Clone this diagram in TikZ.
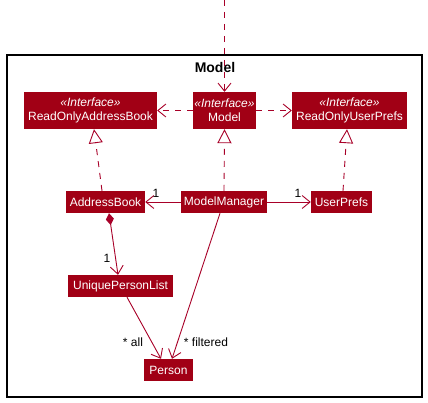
\documentclass[tikz,border=0pt]{standalone}
\usepackage{fontspec}
\setmainfont{Liberation Sans}
\usetikzlibrary{arrows.meta}
\definecolor{boxfill}{RGB}{161,0,21}
\definecolor{linecol}{RGB}{168,0,40}
\begin{document}
\begin{tikzpicture}[x=1pt,y=-1pt,
  cls/.style={fill=boxfill,draw=none,text=white,inner sep=0pt,align=center,font=\fontsize{12}{14}\selectfont},
  conn/.style={draw=linecol,line width=0.9pt},
  dep/.style={conn,dash pattern=on 6pt off 6pt,-{Straight Barb[length=8pt,width=13pt]}},
  assoc/.style={conn,-{Straight Barb[length=8pt,width=13pt]}},
  real/.style={conn,dash pattern=on 6pt off 6pt,-{Triangle[open,length=14pt,width=14pt,fill=white]}},
  comp/.style={conn,{Diamond[length=12pt,width=8pt]}-{Straight Barb[length=8pt,width=13pt]}},
  lbl/.style={font=\fontsize{12}{14}\selectfont,text=black,inner sep=0pt}]
\useasboundingbox (0,0) rectangle (428,403);
\fill[white] (0,0) rectangle (428,403);
\draw[black,line width=1.4pt] (7,55) rectangle (422,397);
\node[font=\bfseries\fontsize{14}{16}\selectfont] (title) at (215,67) {Model};

\node[cls,minimum width=133pt,minimum height=37pt] (roab) at (90.5,110.5) {\textit{«Interface»}\\ReadOnlyAddressBook};
\node[cls,minimum width=63pt,minimum height=37pt] (model) at (224.5,110.5) {\textit{«Interface»}\\Model};
\node[cls,minimum width=115pt,minimum height=37pt] (roup) at (349.5,110.5) {\textit{«Interface»}\\ReadOnlyUserPrefs};

\node[cls,minimum width=79pt,minimum height=22pt] (ab) at (105.5,202) {AddressBook};
\node[cls,minimum width=86pt,minimum height=22pt] (mm) at (224,202) {ModelManager};
\node[cls,minimum width=61pt,minimum height=22pt] (up) at (341.5,202) {UserPrefs};
\node[cls,minimum width=105pt,minimum height=22pt] (upl) at (120.5,286) {UniquePersonList};
\node[cls,minimum width=49pt,minimum height=22pt] (person) at (168.5,370) {Person};

\coordinate (topin) at (224.5,0);
\draw[dep] (topin) -- (model.north);
\draw[dep] (model.west) -- (roab.east);
\draw[dep] (model.east) -- (roup.west);

\draw[real] ([xshift=-3.5pt]ab.north) -- ([xshift=3.5pt]roab.south);
\draw[real] (mm.north) -- (model.south);
\draw[real] ([xshift=1.5pt]up.north) -- ([xshift=-2.5pt]roup.south);

\draw[assoc] (mm.west) -- (ab.east);
\draw[assoc] (mm.east) -- (up.west);
\draw[comp] ([xshift=3.5pt]ab.south) -- ([xshift=-2.5pt]upl.north);
\draw[assoc] ([xshift=6.5pt]upl.south) -- ([xshift=-7.5pt]person.north);
\draw[assoc] ([xshift=-4pt]mm.south) -- ([xshift=3.5pt]person.north);

\node[lbl] (l1) at (156,193) {1};
\node[lbl] (l2) at (298,193) {1};
\node[lbl] (l3) at (107,258) {1};
\node[lbl] (l4) at (133,342) {* all};
\node[lbl] (l5) at (206,342) {* filtered};
\end{tikzpicture}
\end{document}
